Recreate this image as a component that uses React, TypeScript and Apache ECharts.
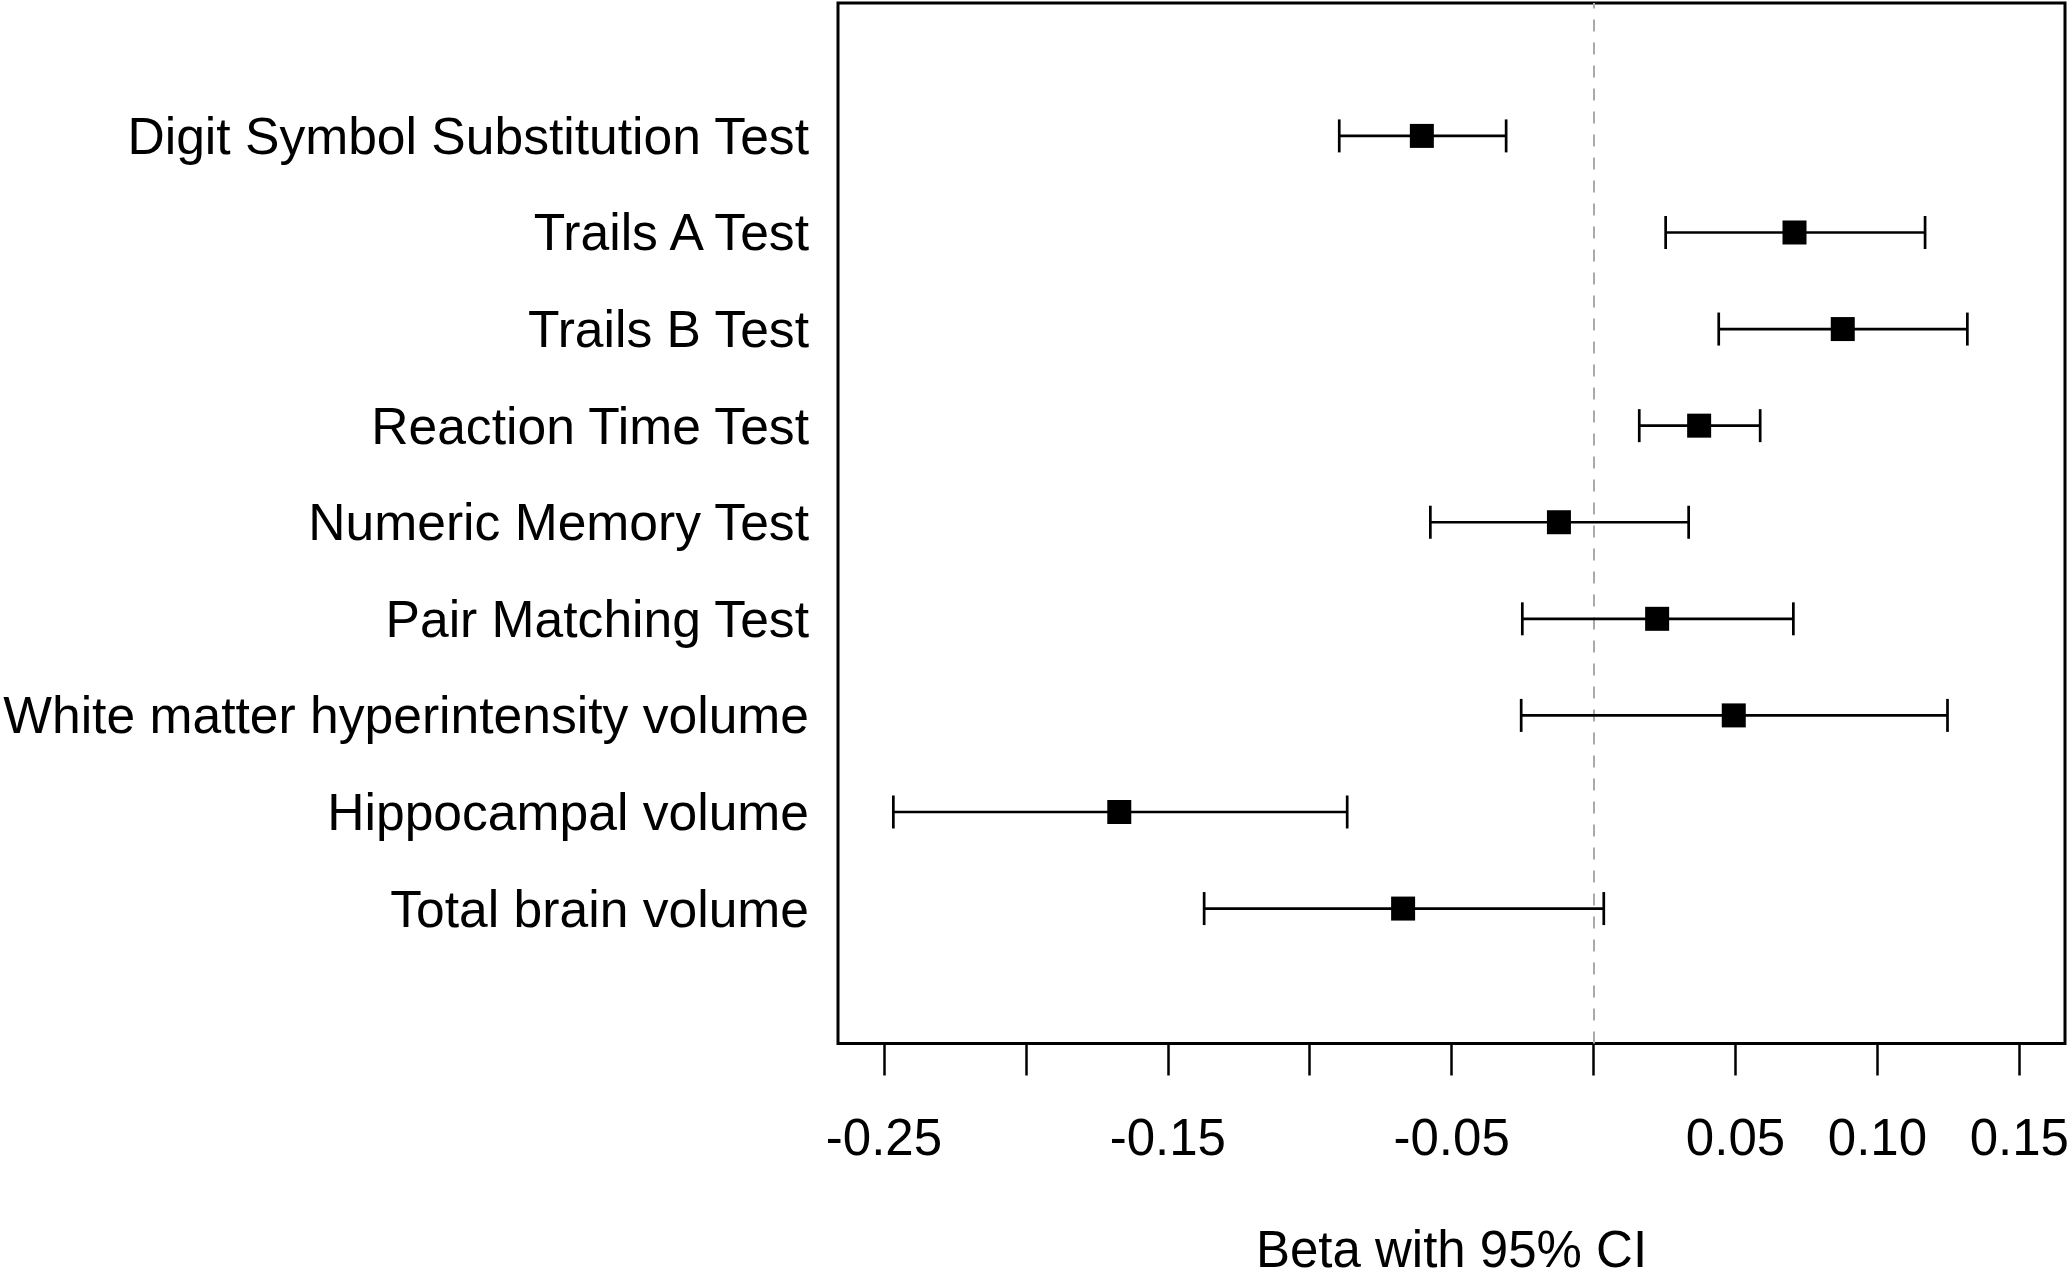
import React, { useEffect, useRef } from "react";
import * as echarts from "echarts";

const categories = [
  "Digit Symbol Substitution Test",
  "Trails A Test",
  "Trails B Test",
  "Reaction Time Test",
  "Numeric Memory Test",
  "Pair Matching Test",
  "White matter hyperintensity volume",
  "Hippocampal volume",
  "Total brain volume",
];
const betas = [-0.0605, 0.0708, 0.0878, 0.0372, -0.0122, 0.0224, 0.0494, -0.1671, -0.0671];
const lowers = [-0.0896, 0.0254, 0.0441, 0.0161, -0.0575, -0.0251, -0.0255, -0.2467, -0.1372];
const uppers = [-0.0308, 0.1168, 0.1317, 0.0587, 0.0335, 0.0704, 0.1247, -0.0868, 0.0036];
const tickValues = [-0.25, -0.2, -0.15, -0.1, -0.05, 0, 0.05, 0.1, 0.15];
const tickLabels = [-0.25, -0.15, -0.05, 0.05, 0.1, 0.15];
const axisTitle = "Beta with 95% CI";

const FONT = "'Liberation Sans', Arial, Helvetica, sans-serif";
const FS = 51;
const FS_Y = 51.6;

export default function App() {
  const ref = useRef<HTMLDivElement>(null);
  useEffect(() => {
    if (!ref.current) return;
    const chart = echarts.init(ref.current, null, { renderer: "svg" });
    const n = categories.length;
    const rowY = categories.map((_, i) => n - i);
    const ciData = categories.map((_, i) => [lowers[i], uppers[i], rowY[i]]);
    const ptData = categories.map((_, i) => [betas[i], rowY[i]]);
    chart.setOption({
      animation: false,
      backgroundColor: "#ffffff",
      textStyle: { fontFamily: FONT },
      grid: {
        left: 838,
        right: 5,
        top: 3,
        bottom: 236.5,
        containLabel: false,
        outerBoundsMode: "none",
        show: true,
        borderColor: "#000000",
        borderWidth: 3,
        backgroundColor: "transparent",
      },
      xAxis: {
        type: "value",
        min: -0.2662,
        max: 0.1661,
        name: axisTitle,
        nameLocation: "middle",
        nameGap: 180,
        nameTextStyle: { fontSize: FS, color: "#000", fontFamily: FONT },
        axisLine: { show: false, onZero: false },
        splitLine: { show: false },
        axisTick: {
          show: true,
          inside: false,
          length: 32,
          customValues: tickValues,
          lineStyle: { color: "#000", width: 2.5 },
        },
        axisLabel: {
          customValues: tickLabels,
          margin: 68,
          fontSize: FS,
          color: "#000",
          fontFamily: FONT,
          formatter: (v: number) => v.toFixed(2),
        },
      },
      yAxis: {
        type: "value",
        min: -0.397,
        max: 10.376,
        axisLine: { show: false, onZero: false },
        splitLine: { show: false },
        axisTick: { show: false },
        axisLabel: {
          customValues: rowY,
          margin: 29,
          fontSize: FS_Y,
          color: "#000",
          fontFamily: FONT,
          formatter: (v: number) => categories[n - Math.round(v)] ?? "",
        },
      },
      series: [
        {
          type: "custom",
          data: ciData,
          encode: { x: [0, 1], y: 2 },
          renderItem: (params: any, api: any) => {
            const y = api.value(2);
            const p1 = api.coord([api.value(0), y]);
            const p2 = api.coord([api.value(1), y]);
            const h = 16.5;
            const style = { stroke: "#000", lineWidth: 2.7 };
            return {
              type: "group",
              children: [
                { type: "line", shape: { x1: p1[0], y1: p1[1], x2: p2[0], y2: p2[1] }, style },
                { type: "line", shape: { x1: p1[0], y1: p1[1] - h, x2: p1[0], y2: p1[1] + h }, style },
                { type: "line", shape: { x1: p2[0], y1: p2[1] - h, x2: p2[0], y2: p2[1] + h }, style },
              ],
            };
          },
          z: 3,
        },
        {
          type: "scatter",
          data: ptData,
          symbol: "rect",
          symbolSize: 24,
          itemStyle: { color: "#000", opacity: 1 },
          z: 4,
          markLine: {
            silent: true,
            symbol: ["none", "none"],
            label: { show: false },
            lineStyle: { color: "#aaaaaa", width: 2, type: [12, 11], opacity: 1 },
            data: [{ xAxis: 0 }],
            z: 2,
          },
        },
      ],
    });
    return () => chart.dispose();
  }, []);
  return (
    <div
      ref={ref}
      style={{ position: "fixed", left: 0, top: 0, width: 2070, height: 1280, background: "#fff" }}
    />
  );
}
